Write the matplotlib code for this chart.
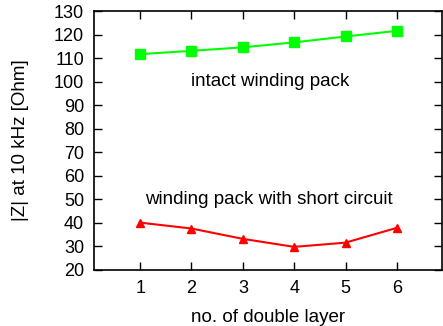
import numpy as np
import matplotlib.pyplot as plt

# |Z| at 10 kHz per double layer
layers = [1, 2, 3, 4, 5, 6]
z_intact = [111.7, 113.1, 114.6, 116.7, 119.2, 121.6]
z_short = [40.1, 37.6, 33.2, 29.8, 31.6, 37.9]

plt.rcParams["font.family"] = ["Liberation Sans", "DejaVu Sans"]
plt.rcParams["font.size"] = 13

fig = plt.figure(figsize=(4.43, 3.26), dpi=100)
ax = fig.add_axes([0.212, 0.172, 0.786, 0.794])

ax.plot(layers, z_intact, color="#00ff00", lw=1.5, marker="s", ms=7)
ax.plot(layers, z_short, color="#ff0000", lw=1.5, marker="^", ms=5.5)

ax.text(3.53, 100, "intact winding pack", ha="center", va="center", fontsize=13.5)
ax.text(3.5, 50, "winding pack with short circuit", ha="center", va="center", fontsize=13.5)

ax.set_xlim(0.1, 6.88)
ax.set_ylim(20, 130)
ax.set_xticks(layers)
ax.set_yticks(np.arange(20, 131, 10))
ax.tick_params(direction="in", top=True, right=True, length=6, width=1, pad=7)
for s in ax.spines.values():
    s.set_linewidth(1.2)

ax.set_xlabel("no. of double layer", labelpad=9, fontsize=13.5)
ax.set_ylabel("|Z| at 10 kHz [Ohm]", labelpad=18, fontsize=13.5)

fig.savefig("out.png", dpi=100)
